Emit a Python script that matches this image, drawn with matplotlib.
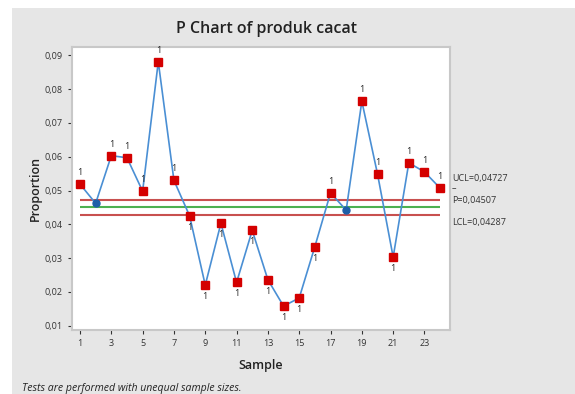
import matplotlib
matplotlib.use("Agg")
import matplotlib.pyplot as plt
from matplotlib.patches import Rectangle

# data
samples = list(range(1, 25))
proportion = [0.0519, 0.0462, 0.0603, 0.0597, 0.0498, 0.0881, 0.0530, 0.0425,
              0.0220, 0.0403, 0.0228, 0.0382, 0.0236, 0.0158, 0.0182, 0.0334,
              0.0493, 0.0442, 0.0764, 0.0549, 0.0303, 0.0582, 0.0555, 0.0507]
ucl = 0.04727
pbar = 0.04507
lcl = 0.04287
xticks = [1, 3, 5, 7, 9, 11, 13, 15, 17, 19, 21, 23]
yticks = [0.01, 0.02, 0.03, 0.04, 0.05, 0.06, 0.07, 0.08, 0.09]

plt.rcParams['font.family'] = ['Open Sans', 'DejaVu Sans']

fig = plt.figure(figsize=(5.75, 3.94), dpi=100, facecolor='white')
# grey panel behind everything
bg = Rectangle((12 / 575, 0), 1 - 12 / 575, 1 - 8 / 394,
               transform=fig.transFigure, facecolor='#e6e6e6',
               edgecolor='none', zorder=-10)
fig.add_artist(bg)

ax = fig.add_axes([72 / 575, 1 - 330 / 394, 378 / 575, 283 / 394])
ax.set_facecolor('white')

ax.hlines([ucl, lcl], 1, 24, colors='#c8504f', linewidth=1.5, zorder=2)
ax.hlines(pbar, 1, 24, colors='#4cb050', linewidth=1.5, zorder=2)

ax.plot(samples, proportion, color='#4a8fd4', linewidth=1.2, zorder=3)

for s, p in zip(samples, proportion):
    if lcl <= p <= ucl:
        ax.plot(s, p, 'o', color='#1d5ea8', markersize=5, zorder=4)
    else:
        ax.plot(s, p, 's', color='#d40000', markersize=6, zorder=4)
        if p > ucl:
            ax.annotate('1', (s, p), xytext=(0, 5), textcoords='offset points',
                        ha='center', va='bottom', fontsize=6.5, color='#222222')
        else:
            ax.annotate('1', (s, p), xytext=(0, -5), textcoords='offset points',
                        ha='center', va='top', fontsize=6.5, color='#222222')

ax.set_xlim(0.49, 24.63)
ax.set_ylim(0.00873, 0.09246)
ax.set_xticks(xticks)
ax.set_yticks(yticks)
ax.set_yticklabels([f'{v:.2f}'.replace('.', ',') for v in yticks])
ax.tick_params(labelsize=6.5, colors='#333333', length=3, width=0.8)
for sp in ax.spines.values():
    sp.set_color('#c8c8c8')
    sp.set_linewidth(1.5)

ax.set_xlabel('Sample', fontsize=9, fontweight='semibold', color='#222222', labelpad=8)
ax.set_ylabel('Proportion', fontsize=9, fontweight='semibold', color='#222222', labelpad=2)

fig.text(267 / 575, 1 - 29 / 394, 'P Chart of produk cacat', ha='center', va='center',
         fontsize=11.5, fontweight='semibold', color='#222222')

fig.text(452 / 575, 1 - 178 / 394, 'UCL=0,04727', fontsize=6.5, va='center', color='#333333')
fig.text(452 / 575, 1 - 189 / 394, '–', fontsize=6.5, va='center', color='#333333')
fig.text(452 / 575, 1 - 201 / 394, 'P=0,04507', fontsize=6.5, va='center', color='#333333')
fig.text(452 / 575, 1 - 222 / 394, 'LCL=0,04287', fontsize=6.5, va='center', color='#333333')

fig.text(22 / 575, 1 - 388 / 394, 'Tests are performed with unequal sample sizes.',
         fontsize=7.6, style='italic', va='center', color='#222222')

fig.savefig('out.png', dpi=100, facecolor=fig.get_facecolor())
